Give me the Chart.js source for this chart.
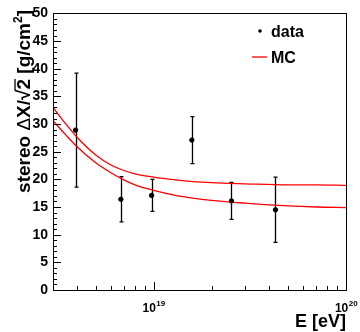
<!DOCTYPE html>
<html>
<head>
<meta charset="utf-8">
<script src="https://cdn.jsdelivr.net/npm/chart.js@4"></script>
<style>
  html, body { margin: 0; padding: 0; background: #fff; }
</style>
</head>
<body>
<canvas id="chart" width="360" height="332"></canvas>
<script>
// data points with symmetric errors
const energy = [3.93e18, 6.76e18, 9.76e18, 1.58e19, 2.54e19, 4.30e19];
const value  = [28.9, 16.4, 17.1, 27.1, 16.1, 14.5];
const errors = [10.3, 4.1, 2.9, 4.25, 3.35, 5.9];

// MC band
const mcEnergy = [3e18, 3.5e18, 4e18, 5e18, 6e18, 7e18, 8e18, 1e19, 1.3e19, 1.6e19, 2e19, 3e19, 5e19, 7e19, 1e20];
const mcUpper  = [33.0, 30.0, 27.6, 24.4, 22.6, 21.6, 21.0, 20.4, 19.9, 19.6, 19.4, 19.2, 19.0, 19.0, 18.9];
const mcLower  = [30.6, 28.0, 25.9, 23.0, 21.2, 19.9, 19.0, 18.0, 17.1, 16.6, 16.2, 15.7, 15.2, 15.0, 14.9];

const xMajor     = [1e19, 1e20];
const xMajorExp  = ['19', '20'];
const xMinor     = [4e18, 5e18, 6e18, 7e18, 8e18, 9e18, 2e19, 3e19, 4e19, 5e19, 6e19, 7e19, 8e19, 9e19];

const FONT = 'Liberation Sans, Arial, Helvetica, sans-serif';

const rootStyle = {
  id: 'rootStyle',
  beforeDatasetsDraw(chart) {
    const { ctx, scales: { x, y } } = chart;
    ctx.save();
    ctx.strokeStyle = '#000';
    ctx.lineWidth = 1.3;
    energy.forEach((e, i) => {
      const px = Math.round(x.getPixelForValue(e)) + 0.5;
      const top = y.getPixelForValue(value[i] + errors[i]);
      const bot = y.getPixelForValue(value[i] - errors[i]);
      ctx.beginPath();
      ctx.moveTo(px, top); ctx.lineTo(px, bot);
      ctx.moveTo(px - 2, top); ctx.lineTo(px + 2, top);
      ctx.moveTo(px - 2, bot); ctx.lineTo(px + 2, bot);
      ctx.stroke();
    });
    ctx.restore();
  },
  afterDraw(chart) {
    const { ctx, chartArea: a, scales: { x, y } } = chart;
    ctx.save();
    ctx.strokeStyle = '#000';
    ctx.lineWidth = 1;
    ctx.strokeRect(Math.round(a.left) + 0.5, Math.round(a.top) + 0.5,
                   Math.round(a.right - a.left), Math.round(a.bottom - a.top));

    // inward ticks
    ctx.beginPath();
    for (let v = 0; v <= 50; v++) {
      const py = Math.round(y.getPixelForValue(v)) + 0.5;
      const len = v % 5 === 0 ? 8 : 4;
      ctx.moveTo(a.left, py); ctx.lineTo(a.left + len, py);
    }
    xMinor.forEach(v => {
      const px = Math.round(x.getPixelForValue(v)) + 0.5;
      ctx.moveTo(px, a.bottom); ctx.lineTo(px, a.bottom - 4);
    });
    xMajor.forEach(v => {
      const px = Math.round(x.getPixelForValue(v)) + 0.5;
      ctx.moveTo(px, a.bottom); ctx.lineTo(px, a.bottom - 8);
    });
    ctx.stroke();

    // x tick labels 10^n
    ctx.fillStyle = '#000';
    ctx.textBaseline = 'alphabetic';
    xMajor.forEach((v, i) => {
      const px = x.getPixelForValue(v);
      ctx.font = 'bold 12px ' + FONT;
      const wBase = ctx.measureText('10').width;
      ctx.font = 'bold 8px ' + FONT;
      const wExp = ctx.measureText(xMajorExp[i]).width;
      const start = px - (wBase + wExp) / 2;
      ctx.font = 'bold 12px ' + FONT;
      ctx.textAlign = 'left';
      ctx.fillText('10', start, a.bottom + 22);
      ctx.font = 'bold 8px ' + FONT;
      ctx.fillText(xMajorExp[i], start + wBase + 0.5, a.bottom + 16);
    });

    // x title
    ctx.font = 'bold 18px ' + FONT;
    ctx.textAlign = 'right';
    ctx.fillText('E [eV]', a.right, 327);

    // y title, rotated, aligned to the top
    ctx.save();
    ctx.translate(30, 10);
    ctx.rotate(-Math.PI / 2);
    const big = 'bold 19px ' + FONT;
    const greek = '19px ' + FONT;
    const small = 'bold 12px ' + FONT;
    const parts = [
      { t: 'stereo ', f: big, dy: 0 },
      { t: '\u0394', f: greek, dy: 0 },
      { t: 'X/\u221A', f: big, dy: 0 },
      { t: '2', f: big, dy: 0, over: true },
      { t: ' [g/cm', f: big, dy: 0 },
      { t: '2', f: small, dy: -8 },
      { t: ']', f: big, dy: 0 }
    ];
    let total = 0;
    parts.forEach(p => { ctx.font = p.f; p.w = ctx.measureText(p.t).width; total += p.w; });
    let cx = -total;
    ctx.textAlign = 'left';
    parts.forEach(p => {
      ctx.font = p.f;
      ctx.fillText(p.t, cx, p.dy);
      if (p.over) {
        ctx.beginPath();
        ctx.lineWidth = 1.3;
        ctx.moveTo(cx - 1, -15); ctx.lineTo(cx + p.w, -15);
        ctx.stroke();
      }
      cx += p.w;
    });
    ctx.restore();

    // legend
    ctx.font = 'bold 16px ' + FONT;
    ctx.textAlign = 'left';
    ctx.fillText('data', 271, 37);
    ctx.fillText('MC', 271, 63);
    ctx.beginPath();
    ctx.arc(260, 31, 1.8, 0, Math.PI * 2);
    ctx.fill();
    ctx.strokeStyle = '#ff0000';
    ctx.lineWidth = 1.3;
    ctx.beginPath();
    ctx.moveTo(252, 57); ctx.lineTo(267, 57);
    ctx.stroke();
    ctx.restore();
  }
};

new Chart(document.getElementById('chart'), {
  data: {
    datasets: [
      {
        type: 'scatter',
        label: 'data',
        data: energy.map((e, i) => ({ x: e, y: value[i] })),
        backgroundColor: '#000',
        borderColor: '#000',
        pointRadius: 2.2,
        order: 0
      },
      {
        type: 'line',
        label: 'MC',
        data: mcEnergy.map((e, i) => ({ x: e, y: mcUpper[i] })),
        borderColor: '#ff0000',
        borderWidth: 1.3,
        pointRadius: 0,
        fill: false,
        cubicInterpolationMode: 'monotone',
        order: 1
      },
      {
        type: 'line',
        label: 'MC',
        data: mcEnergy.map((e, i) => ({ x: e, y: mcLower[i] })),
        borderColor: '#ff0000',
        borderWidth: 1.3,
        pointRadius: 0,
        fill: false,
        cubicInterpolationMode: 'monotone',
        order: 1
      }
    ]
  },
  options: {
    responsive: false,
    animation: false,
    layout: { padding: { top: 11, right: 14, left: 0, bottom: 0 } },
    plugins: { legend: { display: false }, tooltip: { enabled: false } },
    scales: {
      x: {
        type: 'logarithmic',
        min: 3e18,
        max: 1e20,
        grid: { display: false },
        border: { display: false },
        ticks: { display: false },
        afterFit: s => { s.height = 42; }
      },
      y: {
        type: 'linear',
        min: 0,
        max: 50,
        grid: { display: false, drawTicks: false },
        border: { display: false },
        ticks: {
          stepSize: 5,
          padding: 5,
          color: '#000',
          font: { family: FONT, size: 14, weight: 'bold' }
        },
        afterFit: s => { s.width = 53; }
      }
    }
  },
  plugins: [rootStyle]
});
</script>
</body>
</html>
